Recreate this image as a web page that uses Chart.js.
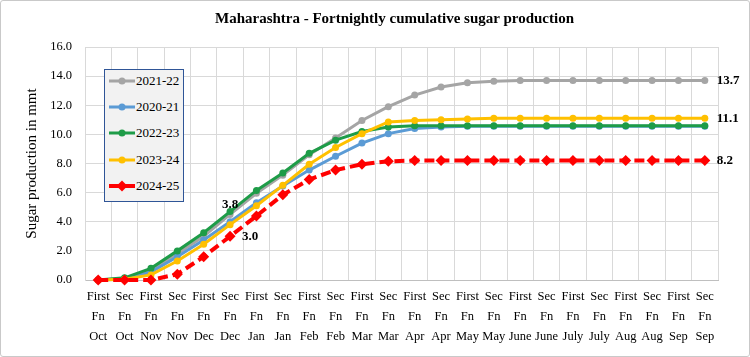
<!DOCTYPE html>
<html><head><meta charset="utf-8">
<script src="https://cdn.jsdelivr.net/npm/chart.js@4/dist/chart.umd.min.js"></script>
<style>
html,body{margin:0;padding:0;background:#fff;}
#wrap{position:relative;width:750px;height:357px;overflow:hidden;background:#fff;}
#frame{position:absolute;left:0;top:0;width:750px;height:357px;box-sizing:border-box;border:1px solid #c9c9c9;border-radius:3px;pointer-events:none;}
#title{position:absolute;top:9px;left:0;width:789px;text-align:center;font:bold 15px 'Liberation Serif',serif;line-height:18px;color:#000;}
#legend{position:absolute;left:104px;top:69px;width:80px;height:133px;box-sizing:border-box;border:1px solid #2f5597;background:#f2f2f2;}
.item{position:absolute;left:4px;height:20px;display:flex;align-items:center;font:13px 'Liberation Serif',serif;color:#000;white-space:nowrap;}
.item svg{display:block;margin-right:1px;}
canvas{position:absolute;left:0;top:0;}
</style></head>
<body>
<div id="wrap">
  <canvas id="c" width="750" height="357"></canvas>
  <div id="title">Maharashtra - Fortnightly cumulative sugar production</div>
  <div id="legend"></div>
  <div id="frame"></div>
</div>
<script>
// ---- data ----
const halves = ['First','Sec','First','Sec','First','Sec','First','Sec','First','Sec','First','Sec','First','Sec','First','Sec','First','Sec','First','Sec','First','Sec','First','Sec'];
const months = ['Oct','Oct','Nov','Nov','Dec','Dec','Jan','Jan','Feb','Feb','Mar','Mar','Apr','Apr','May','May','June','June','July','July','Aug','Aug','Sep','Sep'];
const yTicks = [0,2,4,6,8,10,12,14,16];

const seriesNames = ['2021-22','2020-21','2022-23','2023-24','2024-25'];
const s2021_22 = [0,0.1,0.6,1.8,3.0,4.5,5.95,7.2,8.6,9.75,10.95,11.9,12.7,13.25,13.55,13.65,13.7,13.7,13.7,13.7,13.7,13.7,13.7,13.7];
const s2020_21 = [0,0.05,0.55,1.6,2.75,4.0,5.3,6.45,7.55,8.5,9.4,10.05,10.4,10.5,10.55,10.55,10.55,10.55,10.55,10.55,10.55,10.55,10.55,10.55];
const s2022_23 = [0,0.15,0.8,2.0,3.25,4.7,6.15,7.35,8.7,9.6,10.2,10.5,10.6,10.6,10.6,10.6,10.6,10.6,10.6,10.6,10.6,10.6,10.6,10.6];
const s2023_24 = [0,0.05,0.35,1.3,2.45,3.8,5.1,6.5,7.95,9.1,10.05,10.85,10.95,11.0,11.05,11.1,11.1,11.1,11.1,11.1,11.1,11.1,11.1,11.1];
const s2024_25 = [0,0,0,0.4,1.6,3.0,4.4,5.85,6.9,7.55,7.95,8.15,8.2,8.2,8.2,8.2,8.2,8.2,8.2,8.2,8.2,8.2,8.2,8.2];
const seriesValues = [s2021_22, s2020_21, s2022_23, s2023_24, s2024_25];

// value labels: [series name, point index, placement]
const valueLabels = [
  ['2023-24', 5, 'above'],
  ['2024-25', 5, 'right'],
  ['2021-22', 23, 'right'],
  ['2023-24', 23, 'right'],
  ['2024-25', 23, 'right']
];

// ---- styles ----
const colors = ['#a5a5a5','#5b9bd5','#1e9c48','#ffc000','#ff0000'];
const categories = halves.map((h,i)=>[h,'Fn',months[i]]);
const serif = "'Liberation Serif', 'Times New Roman', serif";

const datasets = seriesNames.map((name,i)=>{
  const isRed = i === 4;
  return {
    label: name,
    data: seriesValues[i],
    borderColor: colors[i],
    backgroundColor: colors[i],
    borderWidth: isRed ? 4 : 3,
    borderDash: isRed ? [10,5] : [],
    pointStyle: isRed ? 'rectRot' : 'circle',
    pointRadius: isRed ? 5.5 : 3.5,
    pointBorderWidth: 0,
    pointBackgroundColor: colors[i],
    tension: 0,
    order: 5 - i,
    clip: false
  };
});

const labelPlugin = {
  id: 'valueLabels',
  afterDatasetsDraw(chart){
    const ctx = chart.ctx;
    ctx.save();
    ctx.font = 'bold 13px ' + serif;
    ctx.fillStyle = '#000';
    valueLabels.forEach(([name, idx, place])=>{
      const di = seriesNames.indexOf(name);
      const pt = chart.getDatasetMeta(di).data[idx];
      const txt = seriesValues[di][idx].toFixed(1);
      if (place === 'right') {
        ctx.textAlign = 'left'; ctx.textBaseline = 'middle';
        ctx.fillText(txt, pt.x + 12, pt.y);
      } else {
        ctx.textAlign = 'center'; ctx.textBaseline = 'middle';
        ctx.fillText(txt, pt.x, pt.y - 20);
      }
    });
    ctx.restore();
  }
};

new Chart(document.getElementById('c'), {
  type: 'line',
  data: { labels: categories, datasets },
  options: {
    responsive: false,
    animation: false,
    events: [],
    layout: { padding: { top: 47, left: 0, right: 32, bottom: 0 } },
    plugins: { legend: { display: false }, title: { display: false }, tooltip: { enabled: false } },
    scales: {
      x: {
        offset: true,
        grid: { offset: true, color: '#d9d9d9', drawTicks: false, lineWidth: 1 },
        border: { color: '#bfbfbf' },
        ticks: { autoSkip: false, maxRotation: 0, minRotation: 0, padding: 7, color: '#000',
                 font: { family: serif, size: 12.5, lineHeight: 1.6 } },
        afterFit(s){ s.height = 77; }
      },
      y: {
        min: 0, max: 16,
        afterBuildTicks(s){ s.ticks = yTicks.map(v=>({value:v})); },
        grid: { color: '#d9d9d9', drawTicks: false },
        border: { color: '#d9d9d9' },
        ticks: { padding: 13, color: '#000', font: { family: serif, size: 12.5 },
                 callback: v => Number(v).toFixed(1) },
        title: { display: true, text: 'Sugar production in mmt', color: '#000',
                 font: { family: serif, size: 15 }, padding: { top: 23, bottom: 0 } },
        afterFit(s){ s.width = 85; }
      }
    }
  },
  plugins: [labelPlugin]
});

// ---- HTML legend ----
const legend = document.getElementById('legend');
seriesNames.forEach((name,i)=>{
  const isRed = i === 4;
  const item = document.createElement('div');
  item.className = 'item';
  item.style.top = (11.7 + 26.3*i - 10 - 1) + 'px';
  const marker = isRed
    ? `<polygon points="13,4.5 18.5,10 13,15.5 7.5,10" fill="${colors[i]}"/>`
    : `<circle cx="13" cy="10" r="3.5" fill="${colors[i]}"/>`;
  item.innerHTML = `<svg width="26" height="20"><line x1="0" y1="10" x2="26" y2="10" stroke="${colors[i]}" stroke-width="${isRed?4:3}"/>${marker}</svg><span>${name}</span>`;
  legend.appendChild(item);
});
</script>
</body></html>
